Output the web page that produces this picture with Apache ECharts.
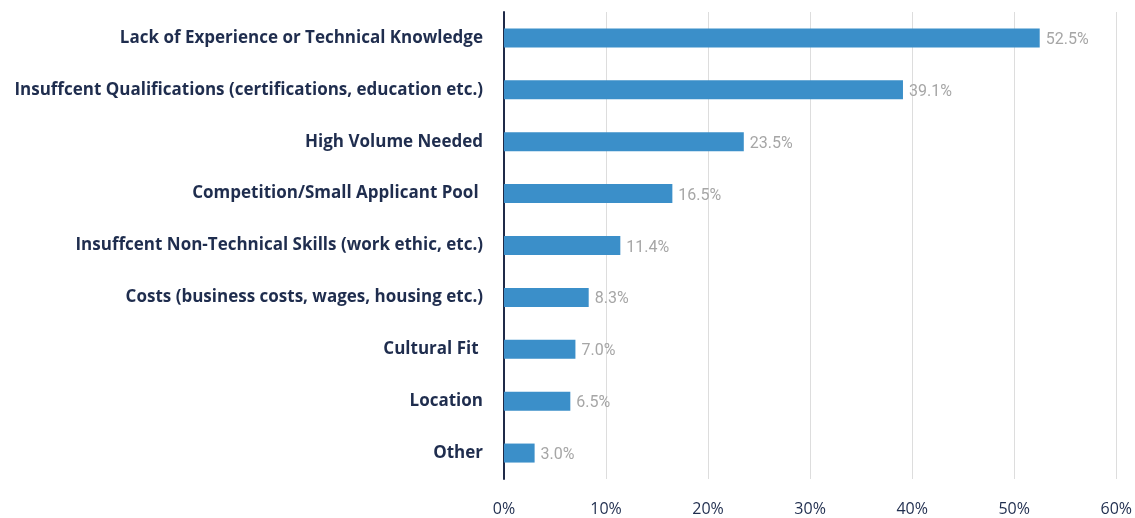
<!DOCTYPE html>
<html><head><meta charset="utf-8">
<script src="https://cdn.jsdelivr.net/npm/echarts@6/dist/echarts.min.js"></script>
<style>html,body{margin:0;padding:0;background:#fff}#c{width:1135px;height:518px}</style>
</head><body><div id="c"></div>
<script>
const categories = [
  "Lack of Experience or Technical Knowledge",
  "Insuffcent Qualifications (certifications, education etc.)",
  "High Volume Needed",
  "Competition/Small Applicant Pool ",
  "Insuffcent Non-Technical Skills (work ethic, etc.)",
  "Costs (business costs, wages, housing etc.)",
  "Cultural Fit ",
  "Location",
  "Other"
];
const values = [52.5, 39.1, 23.5, 16.5, 11.4, 8.3, 7.0, 6.5, 3.0];
const xTicks = [0, 10, 20, 30, 40, 50, 60];

const chart = echarts.init(document.getElementById('c'));
chart.setOption({
  animation: false,
  grid: {left: 504, right: 14, top: 12, bottom: 39, containLabel: false},
  xAxis: {
    type: 'value', min: xTicks[0], max: xTicks[xTicks.length-1], interval: 10,
    axisLine: {show: false}, axisTick: {show: false},
    splitLine: {lineStyle: {color: '#dddddd', width: 1}},
    axisLabel: {formatter: v => v + '%', color: '#1f2d4e', fontFamily: 'Open Sans', fontSize: 16, margin: 22}
  },
  yAxis: {
    type: 'category', data: categories, inverse: true,
    axisLine: {lineStyle: {color: '#1f2a48', width: 2}},
    axisTick: {show: false},
    axisLabel: {color: '#1f2d4e', fontFamily: 'Open Sans', fontWeight: 'bold', fontSize: 17, margin: 21, padding: [3, 0, 0, 0]}
  },
  series: [{
    type: 'bar', data: values, barWidth: 19,
    itemStyle: {color: '#3b8fc9'},
    label: {show: true, position: 'right', distance: 6, offset: [0, 2], formatter: p => p.value.toFixed(1) + '%',
            color: '#a6a6a6', fontFamily: 'Roboto', fontSize: 16}
  }]
});
</script></body></html>
